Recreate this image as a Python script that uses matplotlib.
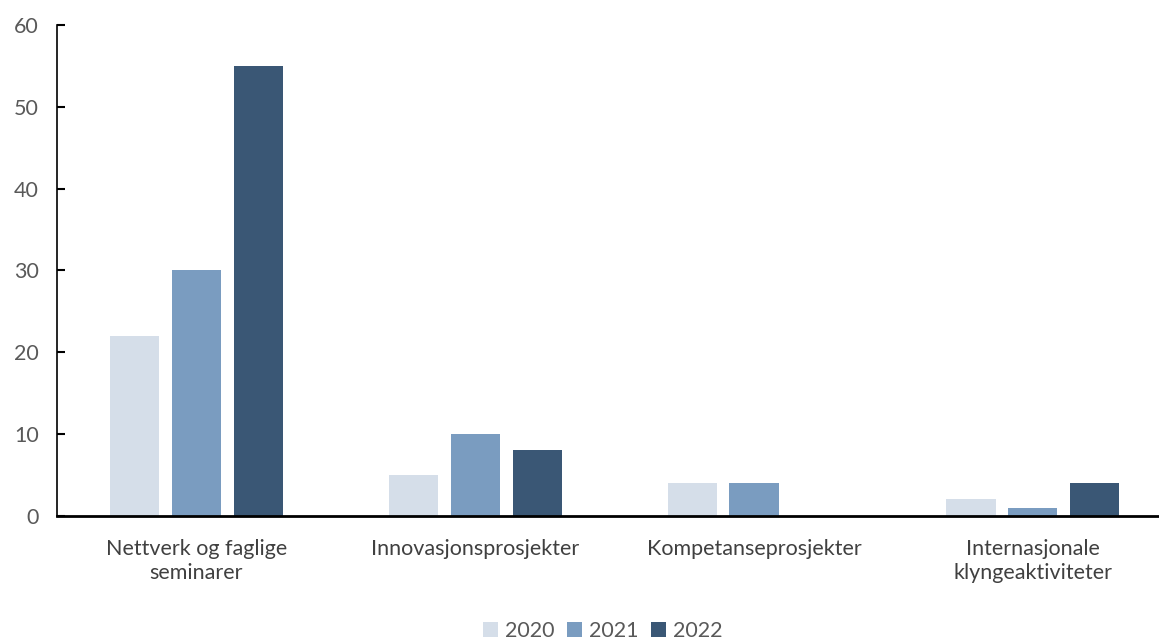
import numpy as np
import matplotlib.pyplot as plt

plt.rcParams['font.family'] = ['Lato', 'DejaVu Sans']

# data
categories = ["Nettverk og faglige\nseminarer", "Innovasjonsprosjekter",
              "Kompetanseprosjekter", "Internasjonale\nklyngeaktiviteter"]
years = ["2020", "2021", "2022"]
v2020 = [22, 5, 4, 2]
v2021 = [30, 10, 4, 1]
v2022 = [55, 8, 0, 4]
colors = ["#D5DEE9", "#7A9CC0", "#3A5775"]

fig = plt.figure(figsize=(11.59, 6.40), dpi=100)
ax = fig.add_axes([0.049, 0.194, 0.951, 0.767])

x = np.arange(len(categories))
w = 0.176
step = 0.222
for i, (vals, lab) in enumerate(zip([v2020, v2021, v2022], years)):
    ax.bar(x + (i - 1) * step, vals, width=w, color=colors[i], label=lab, zorder=2)

ax.set_xlim(-0.5, 3.452)
ax.set_ylim(0, 60)
ax.set_yticks(range(0, 61, 10))
ax.set_xticks(x)
ax.set_xticklabels(categories, fontsize=15.5, color="#404040", linespacing=1.2)

for s in ["top", "right"]:
    ax.spines[s].set_visible(False)
ax.spines["left"].set_linewidth(1.2)
ax.spines["bottom"].set_linewidth(2)
ax.tick_params(axis="y", direction="in", length=6, width=1.5, labelsize=15.5,
               labelcolor="#595959", pad=13)
ax.tick_params(axis="x", length=0, pad=17)

fig.legend(loc="center", bbox_to_anchor=(0.52, 0.014), ncol=3, frameon=False,
           fontsize=15.5, labelcolor="#595959", handlelength=0.7, handleheight=0.7,
           handletextpad=0.3, columnspacing=0.6)

fig.savefig("out.png", dpi=100)
